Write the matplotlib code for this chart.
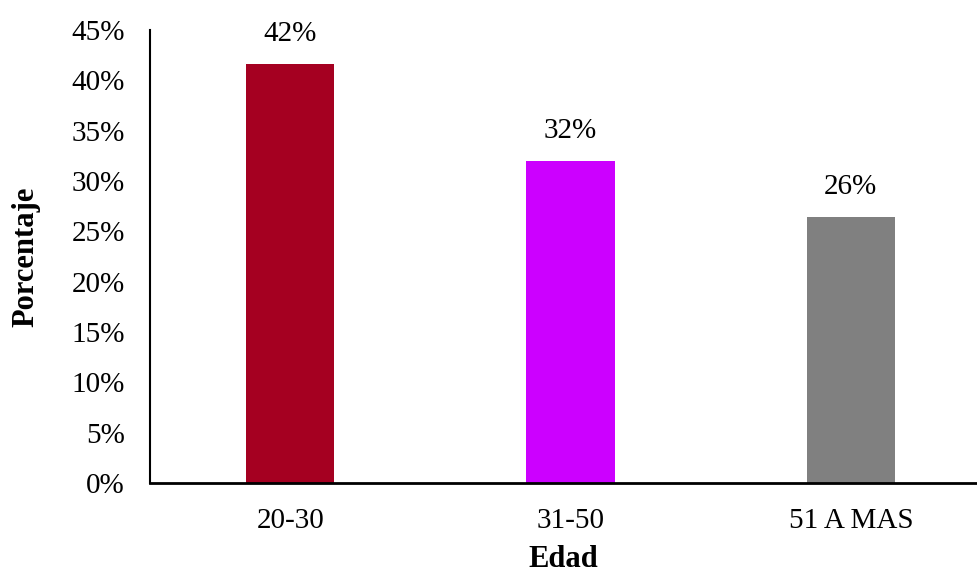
import matplotlib.pyplot as plt
from matplotlib.ticker import PercentFormatter

# age groups and their share
categories = ["20-30", "31-50", "51 A MAS"]
shares = [0.416, 0.320, 0.264]
bar_colors = ["#A50021", "#CC00FF", "#808080"]

plt.rcParams['font.family'] = ['Liberation Serif', 'DejaVu Serif']

fig = plt.figure(figsize=(9.77, 5.76), dpi=100)
ax = fig.add_axes([0.1535, 0.1615, 0.8465, 0.7865])

x = range(len(categories))
bars = ax.bar(x, shares, width=0.315, color=bar_colors)

# value labels above each bar
for bar, val in zip(bars, shares):
    ax.text(bar.get_x() + bar.get_width() / 2, val + 0.017, f"{val:.0%}",
            ha='center', va='bottom', fontsize=21)

ax.set_xlim(-0.5, 2.45)
ax.set_ylim(0, 0.45)
ax.set_yticks([i * 0.05 for i in range(10)])
ax.yaxis.set_major_formatter(PercentFormatter(1.0, decimals=0))
ax.set_xticks(list(x))
ax.set_xticklabels(categories)
ax.tick_params(axis='both', length=0, labelsize=21)
ax.tick_params(axis='x', pad=18)
ax.tick_params(axis='y', pad=18)

ax.spines['top'].set_visible(False)
ax.spines['right'].set_visible(False)
ax.spines['left'].set_linewidth(1.5)
ax.spines['bottom'].set_linewidth(2)

ax.set_xlabel("Edad", fontsize=22, fontweight='bold', labelpad=8)
ax.set_ylabel("Porcentaje", fontsize=22, fontweight='bold', labelpad=22)

fig.savefig("out.png", dpi=100)
